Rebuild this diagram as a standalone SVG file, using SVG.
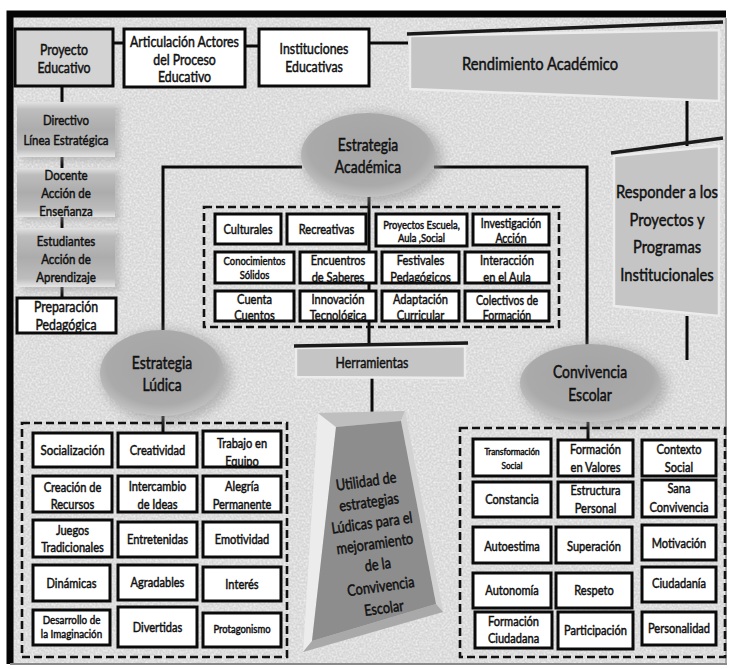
<svg xmlns="http://www.w3.org/2000/svg" width="730" height="669" viewBox="0 0 730 669">
<defs>
  <filter id="grain" x="0" y="0" width="100%" height="100%" color-interpolation-filters="sRGB">
    <feTurbulence type="fractalNoise" baseFrequency="0.5" numOctaves="3" seed="7"/>
    <feColorMatrix type="matrix" values="0 0 0 0 1  0 0 0 0 1  0 0 0 0 1  2.2 0 0 0 -0.8"/>
  </filter>
  <filter id="soft" x="-30%" y="-30%" width="160%" height="160%"><feGaussianBlur stdDeviation="6"/></filter>
  <filter id="soft3" x="-30%" y="-30%" width="160%" height="160%"><feGaussianBlur stdDeviation="3"/></filter>
  <linearGradient id="bevel" x1="0" y1="0" x2="0" y2="1">
    <stop offset="0" stop-color="#e2e2e2"/>
    <stop offset="0.14" stop-color="#bdbdbd"/>
    <stop offset="0.5" stop-color="#acacac"/>
    <stop offset="0.86" stop-color="#bdbdbd"/>
    <stop offset="1" stop-color="#e6e6e6"/>
  </linearGradient>
  <radialGradient id="oval" cx="0.5" cy="0.42" r="0.62">
    <stop offset="0" stop-color="#a4a4a4"/>
    <stop offset="0.72" stop-color="#aaaaaa"/>
    <stop offset="0.9" stop-color="#bebebe"/>
    <stop offset="1" stop-color="#d6d6d6"/>
  </radialGradient>
</defs>
<style>
  .t{font-family:Lato,"Open Sans","Liberation Sans",sans-serif;fill:#111;stroke:#111;stroke-width:0.5;text-anchor:middle}
  .box{fill:#fff;stroke:#0a0a0a;stroke-width:3}
  .gbox{fill:#d3d3d3;stroke:#0a0a0a;stroke-width:3}
  .dash{fill:none;stroke:#111;stroke-width:2.6;stroke-dasharray:8 4}
  .ln{stroke:#0a0a0a;stroke-width:3;fill:none}
  .panel{fill:#c5c5c5;stroke:#ececec;stroke-width:2.5}
  .top{stroke:#1a1a1a;stroke-width:3.5;fill:none}
  .bev{fill:url(#bevel)}
  .halo{fill:#8e8e8e;opacity:0.55}
  .ov{fill:url(#oval)}
  .f10{font-size:10px}.f115{font-size:11.5px}.f12{font-size:12px}.f128{font-size:12.8px}
  .f135{font-size:13.5px}.f14{font-size:14px}.f15{font-size:15px}.f155{font-size:15.5px}
  .f17{font-size:17px}.f18{font-size:18px}
</style>

<!-- paper -->
<rect x="0" y="0" width="730" height="669" fill="#ffffff"/>
<rect x="10" y="14" width="716" height="650" fill="#d6d6d6"/>
<rect x="10" y="14" width="716" height="650" filter="url(#grain)" opacity="0.6"/>
<path d="M10,664 V14 H726" stroke="#050505" stroke-width="7" fill="none"/>
<line x1="726" y1="18" x2="726" y2="664" stroke="#a8a8a8" stroke-width="2"/>
<line x1="10" y1="664" x2="727" y2="664" stroke="#8a8a8a" stroke-width="2"/>

<!-- connectors -->
<g id="connectors">
  <line class="ln" x1="113" y1="43" x2="124" y2="43"/>
  <line class="ln" x1="245" y1="46" x2="259" y2="46"/>
  <line class="ln" x1="369" y1="43" x2="408" y2="43"/>
  <line class="ln" x1="687" y1="100" x2="687" y2="146"/>
  <line class="ln" x1="687" y1="316" x2="687" y2="360"/>
  <line class="ln" x1="62" y1="86" x2="62" y2="102"/>
  <line class="ln" x1="62" y1="157" x2="62" y2="168"/>
  <line class="ln" x1="62" y1="217" x2="62" y2="229"/>
  <line class="ln" x1="62" y1="287" x2="62" y2="298"/>
  <polyline class="ln" points="163,330 163,167 302,167"/>
  <polyline class="ln" points="434,167 587,167 587,346"/>
  <line class="ln" x1="369" y1="196" x2="369" y2="346"/>
  <line class="ln" x1="372" y1="378" x2="372" y2="412"/>
  <line class="ln" x1="163" y1="416" x2="163" y2="433"/>
  <line class="ln" x1="588" y1="421" x2="588" y2="439"/>
</g>

<!-- top row -->
<g id="proyecto-educativo">
  <rect class="gbox" x="15" y="29" width="98" height="57"/>
  <text class="t f15" transform="translate(64 0) scale(.82 1)"><tspan x="0" y="55">Proyecto</tspan><tspan x="0" y="73">Educativo</tspan></text>
</g>
<g id="articulacion">
  <rect class="box" x="124" y="29" width="121" height="58"/>
  <text class="t f15" transform="translate(184.5 0) scale(.82 1)"><tspan x="0" y="47">Articulación Actores</tspan><tspan x="0" y="65">del Proceso</tspan><tspan x="0" y="82">Educativo</tspan></text>
</g>
<g id="instituciones">
  <rect class="box" x="259" y="29" width="110" height="57"/>
  <text class="t f15" transform="translate(314 0) scale(.82 1)"><tspan x="0" y="54">Instituciones</tspan><tspan x="0" y="72">Educativas</tspan></text>
</g>
<g id="rendimiento">
  <polygon class="panel" points="410,36 719,30 719,101 410,89"/>
  <line class="top" x1="407" y1="34" x2="723" y2="22"/>
  <text class="t f18" transform="translate(540 0) scale(.82 1)" x="0" y="70">Rendimiento Académico</text>
</g>
<g id="responder">
  <polygon class="panel" points="614,156 719,146 719,316 614,306"/>
  <line class="top" x1="611" y1="153" x2="723" y2="138"/>
  <text class="t f18" transform="translate(667 0) scale(.82 1)"><tspan x="0" y="198">Responder a los</tspan><tspan x="0" y="226">Proyectos y</tspan><tspan x="0" y="253">Programas</tspan><tspan x="0" y="281">Institucionales</tspan></text>
</g>

<!-- left column -->
<g id="directivo">
  <rect x="22" y="106" width="98" height="55" fill="#9a9a9a" opacity="0.5" filter="url(#soft3)"/>
  <rect class="bev" x="17" y="102" width="98" height="55"/>
  <text class="t f14" transform="translate(66 0) scale(.82 1)"><tspan x="0" y="125">Directivo</tspan><tspan x="0" y="145">Línea Estratégica</tspan></text>
</g>
<g id="docente">
  <rect x="22" y="172" width="98" height="49" fill="#9a9a9a" opacity="0.5" filter="url(#soft3)"/>
  <rect class="bev" x="17" y="168" width="98" height="49"/>
  <text class="t f14" transform="translate(66 0) scale(.82 1)"><tspan x="0" y="180">Docente</tspan><tspan x="0" y="198">Acción de</tspan><tspan x="0" y="216">Enseñanza</tspan></text>
</g>
<g id="estudiantes">
  <rect x="22" y="232" width="98" height="59" fill="#9a9a9a" opacity="0.5" filter="url(#soft3)"/>
  <rect class="bev" x="17" y="228" width="98" height="59"/>
  <text class="t f14" transform="translate(66 0) scale(.82 1)"><tspan x="0" y="246">Estudiantes</tspan><tspan x="0" y="264">Acción de</tspan><tspan x="0" y="282">Aprendizaje</tspan></text>
</g>
<g id="preparacion">
  <rect class="box" x="17" y="298" width="99" height="35"/>
  <text class="t f15" transform="translate(66 0) scale(.82 1)"><tspan x="0" y="312">Preparación</tspan><tspan x="0" y="330">Pedagógica</tspan></text>
</g>

<!-- strategy ovals -->
<g id="estrategia-academica">
  <ellipse class="halo" cx="372" cy="158" rx="70" ry="45" filter="url(#soft)"/>
  <ellipse class="ov" cx="368" cy="155" rx="67" ry="42"/>
  <text class="t f17" transform="translate(368 0) scale(.82 1)"><tspan x="0" y="151">Estrategia</tspan><tspan x="0" y="173">Académica</tspan></text>
</g>
<g id="estrategia-ludica">
  <ellipse class="halo" cx="166" cy="376" rx="65" ry="46" filter="url(#soft)"/>
  <ellipse class="ov" cx="162" cy="373" rx="62" ry="43"/>
  <text class="t f17" transform="translate(162 0) scale(.82 1)"><tspan x="0" y="369">Estrategia</tspan><tspan x="0" y="391">Lúdica</tspan></text>
</g>
<g id="convivencia-escolar">
  <ellipse class="halo" cx="594" cy="386" rx="73" ry="42" filter="url(#soft)"/>
  <ellipse class="ov" cx="590" cy="383" rx="70" ry="39"/>
  <text class="t f17" transform="translate(590 0) scale(.82 1)"><tspan x="0" y="378">Convivencia</tspan><tspan x="0" y="401">Escolar</tspan></text>
</g>

<!-- academic strategies -->
<g id="academica-grupo">
  <rect class="dash" x="204" y="207" width="355" height="120"/>
  <g id="culturales"><rect class="box" x="215" y="214" width="66" height="30"/><text class="t f135" transform="translate(248 0) scale(.82 1)" x="0" y="234">Culturales</text></g>
  <g id="recreativas"><rect class="box" x="287" y="214" width="79" height="30"/><text class="t f135" transform="translate(326.5 0) scale(.82 1)" x="0" y="234">Recreativas</text></g>
  <g id="proyectos-escuela"><rect class="box" x="376" y="214" width="91" height="32"/><text class="t f115" transform="translate(421.5 0) scale(.82 1)"><tspan x="0" y="229">Proyectos Escuela,</tspan><tspan x="0" y="242">Aula ,Social</tspan></text></g>
  <g id="investigacion"><rect class="box" x="473" y="214" width="76" height="31"/><text class="t f128" transform="translate(511 0) scale(.82 1)"><tspan x="0" y="228">Investigación</tspan><tspan x="0" y="243">Acción</tspan></text></g>
  <g id="conocimientos"><rect class="box" x="215" y="252" width="79" height="31"/><text class="t f115" transform="translate(254.5 0) scale(.82 1)"><tspan x="0" y="265">Conocimientos</tspan><tspan x="0" y="279">Sólidos</tspan></text></g>
  <g id="encuentros"><rect class="box" x="300" y="252" width="76" height="31"/><text class="t f135" transform="translate(338 0) scale(.82 1)"><tspan x="0" y="265">Encuentros</tspan><tspan x="0" y="282">de Saberes</tspan></text></g>
  <g id="festivales"><rect class="box" x="382" y="252" width="77" height="31"/><text class="t f135" transform="translate(420.5 0) scale(.82 1)"><tspan x="0" y="265">Festivales</tspan><tspan x="0" y="282">Pedagógicos</tspan></text></g>
  <g id="interaccion"><rect class="box" x="465" y="252" width="84" height="31"/><text class="t f135" transform="translate(507 0) scale(.82 1)"><tspan x="0" y="265">Interacción</tspan><tspan x="0" y="282">en el Aula</tspan></text></g>
  <g id="cuenta-cuentos"><rect class="box" x="215" y="291" width="79" height="30"/><text class="t f135" transform="translate(254.5 0) scale(.82 1)"><tspan x="0" y="304">Cuenta</tspan><tspan x="0" y="320">Cuentos</tspan></text></g>
  <g id="innovacion"><rect class="box" x="300" y="291" width="76" height="30"/><text class="t f135" transform="translate(338 0) scale(.82 1)"><tspan x="0" y="304">Innovación</tspan><tspan x="0" y="320">Tecnológica</tspan></text></g>
  <g id="adaptacion"><rect class="box" x="382" y="291" width="77" height="30"/><text class="t f135" transform="translate(420.5 0) scale(.82 1)"><tspan x="0" y="304">Adaptación</tspan><tspan x="0" y="320">Curricular</tspan></text></g>
  <g id="colectivos"><rect class="box" x="465" y="291" width="84" height="30"/><text class="t f128" transform="translate(507 0) scale(.82 1)"><tspan x="0" y="305">Colectivos de</tspan><tspan x="0" y="320">Formación</tspan></text></g>
</g>

<!-- tools bar -->
<g id="herramientas">
  <polygon class="panel" points="296,348 465,346 465,378 296,377"/>
  <line class="top" x1="294" y1="346" x2="468" y2="343"/>
  <text class="t f15" transform="translate(372 0) scale(.82 1)" x="0" y="368">Herramientas</text>
</g>

<!-- central block -->
<g id="utilidad">
  <polygon points="318,413 405,411 443,612 303,652" fill="#d6d6d6"/>
  <polygon points="318,413 336,427 312,641 303,652" fill="#ececec"/>
  <polygon points="318,413 405,411 401,421 336,427" fill="#bfbfbf"/>
  <polygon points="405,411 443,612 436,604 401,421" fill="#d2d2d2"/>
  <polygon points="303,652 312,641 436,604 443,612" fill="#a9a9a9"/>
  <polygon points="336,427 401,421 436,604 312,641" fill="#8d8d8d"/>
  <g transform="rotate(-8 375 545)">
    <text class="t f155" transform="translate(375 0) scale(.82 1)"><tspan x="0" y="486">Utilidad de</tspan><tspan x="0" y="507">estrategias</tspan><tspan x="0" y="528">Lúdicas para el</tspan><tspan x="0" y="549">mejoramiento</tspan><tspan x="0" y="570">de la</tspan><tspan x="0" y="592">Convivencia</tspan><tspan x="0" y="614">Escolar</tspan></text>
  </g>
</g>

<!-- playful strategies -->
<g id="ludica-grupo">
  <rect class="dash" x="22" y="423" width="265" height="234"/>
  <g id="socializacion"><rect class="box" x="33" y="433" width="79" height="34"/><text class="t f14" transform="translate(72.5 0) scale(.82 1)" x="0" y="455">Socialización</text></g>
  <g id="creatividad"><rect class="box" x="118" y="433" width="79" height="34"/><text class="t f135" transform="translate(157.5 0) scale(.82 1)" x="0" y="455">Creatividad</text></g>
  <g id="trabajo-equipo"><rect class="box" x="203" y="431" width="78" height="36"/><text class="t f135" transform="translate(242 0) scale(.82 1)"><tspan x="0" y="448">Trabajo en</tspan><tspan x="0" y="466">Equipo</tspan></text></g>
  <g id="creacion-recursos"><rect class="box" x="33" y="476" width="79" height="36"/><text class="t f135" transform="translate(72.5 0) scale(.82 1)"><tspan x="0" y="492">Creación de</tspan><tspan x="0" y="509">Recursos</tspan></text></g>
  <g id="intercambio"><rect class="box" x="118" y="476" width="79" height="36"/><text class="t f135" transform="translate(157.5 0) scale(.82 1)"><tspan x="0" y="491">Intercambio</tspan><tspan x="0" y="509">de Ideas</tspan></text></g>
  <g id="alegria"><rect class="box" x="203" y="476" width="78" height="36"/><text class="t f135" transform="translate(242 0) scale(.82 1)"><tspan x="0" y="491">Alegría</tspan><tspan x="0" y="509">Permanente</tspan></text></g>
  <g id="juegos"><rect class="box" x="33" y="520" width="79" height="37"/><text class="t f135" transform="translate(72.5 0) scale(.82 1)"><tspan x="0" y="535">Juegos</tspan><tspan x="0" y="552">Tradicionales</tspan></text></g>
  <g id="entretenidas"><rect class="box" x="118" y="522" width="79" height="35"/><text class="t f135" transform="translate(157.5 0) scale(.82 1)" x="0" y="544">Entretenidas</text></g>
  <g id="emotividad"><rect class="box" x="203" y="522" width="78" height="35"/><text class="t f135" transform="translate(242 0) scale(.82 1)" x="0" y="544">Emotividad</text></g>
  <g id="dinamicas"><rect class="box" x="33" y="565" width="77" height="36"/><text class="t f135" transform="translate(71.5 0) scale(.82 1)" x="0" y="588">Dinámicas</text></g>
  <g id="agradables"><rect class="box" x="118" y="565" width="79" height="35"/><text class="t f135" transform="translate(157.5 0) scale(.82 1)" x="0" y="587">Agradables</text></g>
  <g id="interes"><rect class="box" x="203" y="567" width="78" height="34"/><text class="t f135" transform="translate(242 0) scale(.82 1)" x="0" y="589">Interés</text></g>
  <g id="desarrollo"><rect class="box" x="33" y="610" width="77" height="35"/><text class="t f12" transform="translate(71.5 0) scale(.82 1)"><tspan x="0" y="624">Desarrollo de</tspan><tspan x="0" y="638">la Imaginación</tspan></text></g>
  <g id="divertidas"><rect class="box" x="118" y="607" width="79" height="40"/><text class="t f135" transform="translate(157.5 0) scale(.82 1)" x="0" y="632">Divertidas</text></g>
  <g id="protagonismo"><rect class="box" x="203" y="613" width="78" height="34"/><text class="t f115" transform="translate(242 0) scale(.82 1)" x="0" y="633">Protagonismo</text></g>
</g>

<!-- school coexistence -->
<g id="convivencia-grupo">
  <rect class="dash" x="460" y="428" width="265" height="229"/>
  <g id="transformacion"><rect class="box" x="473" y="439" width="78" height="37"/><text class="t f10" transform="translate(512 0) scale(.82 1)"><tspan x="0" y="455">Transformación</tspan><tspan x="0" y="469">Social</tspan></text></g>
  <g id="formacion-valores"><rect class="box" x="558" y="440" width="75" height="36"/><text class="t f135" transform="translate(595.5 0) scale(.82 1)"><tspan x="0" y="454">Formación</tspan><tspan x="0" y="472">en Valores</tspan></text></g>
  <g id="contexto-social"><rect class="box" x="642" y="440" width="74" height="36"/><text class="t f135" transform="translate(679 0) scale(.82 1)"><tspan x="0" y="454">Contexto</tspan><tspan x="0" y="472">Social</tspan></text></g>
  <g id="constancia"><rect class="box" x="473" y="482" width="78" height="35"/><text class="t f135" transform="translate(512 0) scale(.82 1)" x="0" y="504">Constancia</text></g>
  <g id="estructura"><rect class="box" x="558" y="482" width="75" height="35"/><text class="t f135" transform="translate(595.5 0) scale(.82 1)"><tspan x="0" y="495">Estructura</tspan><tspan x="0" y="513">Personal</tspan></text></g>
  <g id="sana-convivencia"><rect class="box" x="642" y="480" width="74" height="37"/><text class="t f135" transform="translate(679 0) scale(.82 1)"><tspan x="0" y="493">Sana</tspan><tspan x="0" y="512">Convivencia</tspan></text></g>
  <g id="autoestima"><rect class="box" x="473" y="527" width="78" height="36"/><text class="t f135" transform="translate(512 0) scale(.82 1)" x="0" y="551">Autoestima</text></g>
  <g id="superacion"><rect class="box" x="556" y="527" width="76" height="36"/><text class="t f135" transform="translate(594 0) scale(.82 1)" x="0" y="551">Superación</text></g>
  <g id="motivacion"><rect class="box" x="642" y="525" width="74" height="35"/><text class="t f135" transform="translate(679 0) scale(.82 1)" x="0" y="548">Motivación</text></g>
  <g id="autonomia"><rect class="box" x="473" y="573" width="78" height="35"/><text class="t f135" transform="translate(512 0) scale(.82 1)" x="0" y="595">Autonomía</text></g>
  <g id="respeto"><rect class="box" x="556" y="573" width="76" height="35"/><text class="t f135" transform="translate(594 0) scale(.82 1)" x="0" y="595">Respeto</text></g>
  <g id="ciudadania"><rect class="box" x="642" y="567" width="74" height="35"/><text class="t f135" transform="translate(679 0) scale(.82 1)" x="0" y="588">Ciudadanía</text></g>
  <g id="formacion-ciudadana"><rect class="box" x="475" y="612" width="77" height="36"/><text class="t f135" transform="translate(513.5 0) scale(.82 1)"><tspan x="0" y="626">Formación</tspan><tspan x="0" y="643">Ciudadana</tspan></text></g>
  <g id="participacion"><rect class="box" x="558" y="612" width="75" height="37"/><text class="t f135" transform="translate(595.5 0) scale(.82 1)" x="0" y="635">Participación</text></g>
  <g id="personalidad"><rect class="box" x="642" y="612" width="74" height="33"/><text class="t f135" transform="translate(679 0) scale(.82 1)" x="0" y="633">Personalidad</text></g>
</g>
</svg>
